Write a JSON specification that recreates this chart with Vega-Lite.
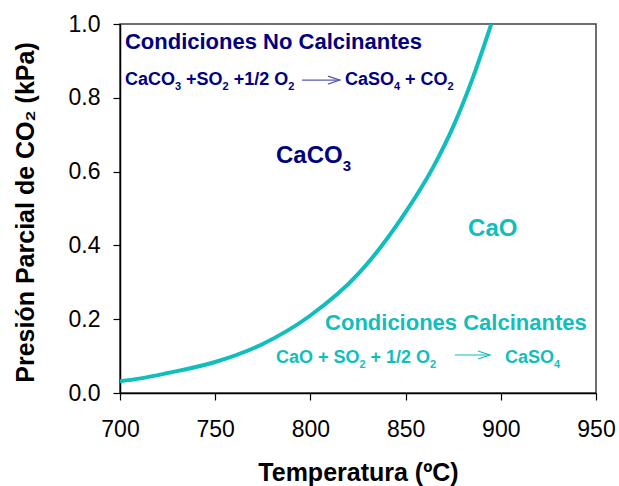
{
  "$schema": "https://vega.github.io/schema/vega-lite/v6.json",
  "width": 476,
  "height": 369,
  "autosize": {"type": "none"},
  "padding": {"left": 120, "top": 24, "right": 23, "bottom": 93},
  "background": "white",
  "config": {
    "font": "Liberation Sans",
    "view": {"stroke": "#404040", "strokeWidth": 1.5},
    "axis": {
      "grid": false,
      "labelFlush": false,
      "domainColor": "black",
      "domainWidth": 1.5,
      "tickColor": "black",
      "tickWidth": 1.2,
      "tickSize": 7,
      "labelFont": "Liberation Sans",
      "labelFontSize": 23,
      "labelColor": "black",
      "titleFont": "Liberation Sans",
      "titleFontSize": 25,
      "titleFontWeight": "bold",
      "titleColor": "black"
    }
  },
  "layer": [
    {
      "data": {"values": [
        {"t": 700, "p": 0.032},
        {"t": 710, "p": 0.039},
        {"t": 725, "p": 0.054},
        {"t": 750, "p": 0.084},
        {"t": 775, "p": 0.133},
        {"t": 800, "p": 0.21},
        {"t": 825, "p": 0.322},
        {"t": 850, "p": 0.49},
        {"t": 865, "p": 0.617},
        {"t": 875, "p": 0.722},
        {"t": 885, "p": 0.85},
        {"t": 895, "p": 1.0}
      ]},
      "mark": {"type": "line", "color": "#10BEBE", "strokeWidth": 4, "interpolate": "monotone", "clip": true},
      "encoding": {
        "x": {"field": "t", "type": "quantitative",
              "scale": {"domain": [700, 950], "nice": false, "zero": false},
              "axis": {"values": [700, 750, 800, 850, 900, 950], "labelPadding": 18, "labelBaseline": "top",
                       "title": "Temperatura (ºC)", "titleBaseline": "alphabetic", "titleY": 87}},
        "y": {"field": "p", "type": "quantitative",
              "scale": {"domain": [0, 1], "nice": false},
              "axis": {"values": [0, 0.2, 0.4, 0.6, 0.8, 1.0], "format": ".1f", "labelPadding": 13,
                       "title": "Presión Parcial de CO₂ (kPa)", "titleBaseline": "alphabetic",
                       "titleX": -87, "titleY": 188, "titleAngle": -90, "titleAlign": "center"}}
      }
    },
    {
      "data": {"values": [
        {"t": 702.6, "p": 0.932, "label": "Condiciones No Calcinantes"}
      ]},
      "mark": {"type": "text", "align": "left", "baseline": "alphabetic", "fontSize": 22, "fontWeight": "bold", "color": "#000080"},
      "encoding": {"x": {"field": "t", "type": "quantitative"}, "y": {"field": "p", "type": "quantitative"}, "text": {"field": "label"}}
    },
    {
      "data": {"values": [
        {"t": 702.63, "p": 0.835, "label": "CaCO"},
        {"t": 734.72, "p": 0.835, "label": "+SO"},
        {"t": 759.72, "p": 0.835, "label": "+1/2 O"},
        {"t": 818.17, "p": 0.835, "label": "CaSO"},
        {"t": 849.68, "p": 0.835, "label": "+ CO"}
      ]},
      "mark": {"type": "text", "align": "left", "baseline": "alphabetic", "fontSize": 18, "fontWeight": "bold", "color": "#000080"},
      "encoding": {"x": {"field": "t", "type": "quantitative"}, "y": {"field": "p", "type": "quantitative"}, "text": {"field": "label"}}
    },
    {
      "data": {"values": [
        {"t": 728.89, "p": 0.821, "label": "3"},
        {"t": 753.89, "p": 0.821, "label": "2"},
        {"t": 788.34, "p": 0.821, "label": "2"},
        {"t": 843.91, "p": 0.821, "label": "4"},
        {"t": 872.0, "p": 0.821, "label": "2"}
      ]},
      "mark": {"type": "text", "align": "left", "baseline": "alphabetic", "fontSize": 11, "fontWeight": "bold", "color": "#000080"},
      "encoding": {"x": {"field": "t", "type": "quantitative"}, "y": {"field": "p", "type": "quantitative"}, "text": {"field": "label"}}
    },
    {
      "data": {"values": [
        {"t": 781.93, "p": 0.623, "label": "CaCO"}
      ]},
      "mark": {"type": "text", "align": "left", "baseline": "alphabetic", "fontSize": 24, "fontWeight": "bold", "color": "#000080"},
      "encoding": {"x": {"field": "t", "type": "quantitative"}, "y": {"field": "p", "type": "quantitative"}, "text": {"field": "label"}}
    },
    {
      "data": {"values": [
        {"t": 816.97, "p": 0.6016, "label": "3"}
      ]},
      "mark": {"type": "text", "align": "left", "baseline": "alphabetic", "fontSize": 15, "fontWeight": "bold", "color": "#000080"},
      "encoding": {"x": {"field": "t", "type": "quantitative"}, "y": {"field": "p", "type": "quantitative"}, "text": {"field": "label"}}
    },
    {
      "data": {"values": [
        {"t": 882.8, "p": 0.425, "label": "CaO"}
      ]},
      "mark": {"type": "text", "align": "left", "baseline": "alphabetic", "fontSize": 24, "fontWeight": "bold", "color": "#10BEBE"},
      "encoding": {"x": {"field": "t", "type": "quantitative"}, "y": {"field": "p", "type": "quantitative"}, "text": {"field": "label"}}
    },
    {
      "data": {"values": [
        {"t": 807.7, "p": 0.171, "label": "Condiciones Calcinantes"}
      ]},
      "mark": {"type": "text", "align": "left", "baseline": "alphabetic", "fontSize": 22, "fontWeight": "bold", "color": "#10BEBE"},
      "encoding": {"x": {"field": "t", "type": "quantitative"}, "y": {"field": "p", "type": "quantitative"}, "text": {"field": "label"}}
    },
    {
      "data": {"values": [
        {"t": 781.93, "p": 0.081, "label": "CaO + SO"},
        {"t": 831.61, "p": 0.081, "label": "+ 1/2 O"},
        {"t": 902.21, "p": 0.081, "label": "CaSO"}
      ]},
      "mark": {"type": "text", "align": "left", "baseline": "alphabetic", "fontSize": 18, "fontWeight": "bold", "color": "#10BEBE"},
      "encoding": {"x": {"field": "t", "type": "quantitative"}, "y": {"field": "p", "type": "quantitative"}, "text": {"field": "label"}}
    },
    {
      "data": {"values": [
        {"t": 825.78, "p": 0.069, "label": "2"},
        {"t": 862.86, "p": 0.069, "label": "2"},
        {"t": 927.94, "p": 0.069, "label": "4"}
      ]},
      "mark": {"type": "text", "align": "left", "baseline": "alphabetic", "fontSize": 11, "fontWeight": "bold", "color": "#10BEBE"},
      "encoding": {"x": {"field": "t", "type": "quantitative"}, "y": {"field": "p", "type": "quantitative"}, "text": {"field": "label"}}
    },
    {
      "data": {"values": [
        {"t1": 795.6, "t2": 815.5, "p": 0.848, "eq": "no"}
      ]},
      "layer": [
        {"mark": {"type": "rule", "color": "#5A5AB0", "strokeWidth": 1.2},
         "encoding": {"x": {"field": "t1", "type": "quantitative"}, "x2": {"field": "t2"}, "y": {"field": "p", "type": "quantitative"}}},
        {"mark": {"type": "point", "shape": "M-2.4,-0.8L0,0L-2.4,0.8", "size": 100, "filled": false, "color": "#5A5AB0", "strokeWidth": 1.2, "opacity": 1},
         "encoding": {"x": {"field": "t2", "type": "quantitative"}, "y": {"field": "p", "type": "quantitative"}}}
      ]
    },
    {
      "data": {"values": [
        {"t1": 875.9, "t2": 894.3, "p": 0.103, "eq": "si"}
      ]},
      "layer": [
        {"mark": {"type": "rule", "color": "#10BEBE", "strokeWidth": 1.2},
         "encoding": {"x": {"field": "t1", "type": "quantitative"}, "x2": {"field": "t2"}, "y": {"field": "p", "type": "quantitative"}}},
        {"mark": {"type": "point", "shape": "M-2.4,-0.8L0,0L-2.4,0.8", "size": 100, "filled": false, "color": "#10BEBE", "strokeWidth": 1.2, "opacity": 1},
         "encoding": {"x": {"field": "t2", "type": "quantitative"}, "y": {"field": "p", "type": "quantitative"}}}
      ]
    }
  ]
}
